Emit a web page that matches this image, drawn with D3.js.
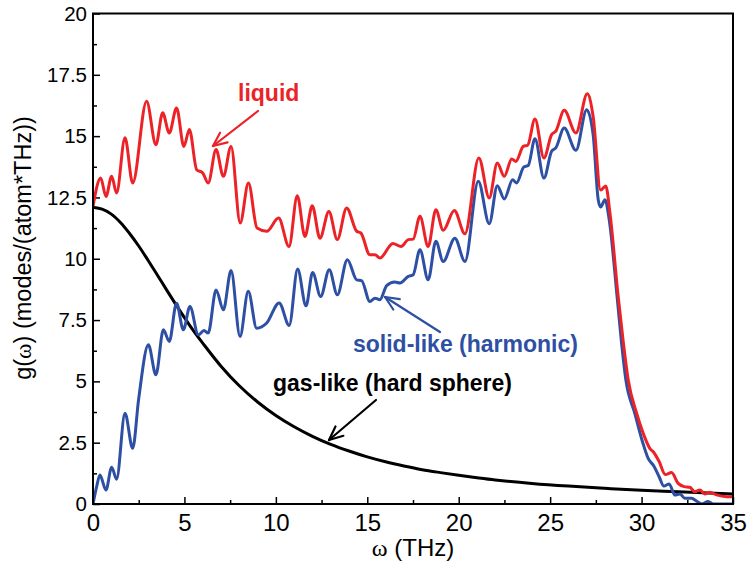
<!DOCTYPE html>
<html>
<head>
<meta charset="utf-8">
<script src="https://cdn.jsdelivr.net/npm/d3@7"></script>
<style>
  html, body { margin: 0; padding: 0; background: #fff; }
  svg { display: block; }
  text { font-family: "Liberation Sans", Arial, Helvetica, sans-serif; }
</style>
</head>
<body>
<svg id="chart" width="749" height="565"></svg>
<script>
// Vibrational density of states g(ω) and its two-phase decomposition
const liquidOmega = [0,0.42,0.71,1.02,1.29,1.75,2.17,2.93,3.44,3.81,4.17,4.57,4.97,5.27,5.67,6.0,6.3,6.73,7.13,7.55,8.05,8.5,8.97,9.5,10.15,10.72,11.17,11.59,11.99,12.41,12.9,13.36,13.87,14.42,14.65,15.14,15.42,15.69,16.4,16.85,17.24,17.51,17.88,18.33,18.75,19.15,19.76,20.34,21.1,21.67,22.11,22.49,22.9,23.13,23.53,23.77,24.17,24.66,25.08,25.31,25.77,26.41,27.03,27.35,27.76,28.04,28.27,28.72,29.0,29.27,29.73,30.09,30.45,30.67,30.96,31.3,31.64,32.0,32.33,32.64,32.91,33.19,33.46,33.74,34.1,34.65,35];
const liquidG = [12.13,13.29,12.54,13.36,12.68,14.93,13.09,16.42,14.65,15.95,15.13,16.15,14.58,15.27,13.63,13.5,13.09,14.45,13.36,14.58,11.46,13.09,11.25,11.12,11.66,10.5,12.57,10.91,12.16,10.84,11.93,10.78,12.07,11.12,11.05,10.16,10.16,10.03,10.62,10.5,10.78,10.8,11.73,10.5,12.0,11.16,11.97,11.02,14.11,12.48,13.9,13.36,14.07,13.97,14.58,14.63,15.7,14.11,15.06,15.2,16.05,15.13,16.73,15.81,12.8,12.97,11.87,8.46,6.6,5.06,3.7,2.88,2.27,2.1,1.73,1.2,1.28,0.84,0.71,0.68,0.5,0.57,0.41,0.48,0.37,0.3,0.3];

const solidOmega = [0,0.2,0.38,0.71,1.02,1.29,1.75,2.17,2.5,3.03,3.44,3.85,4.17,4.57,4.94,5.3,5.76,6.07,6.3,6.73,7.13,7.55,8.04,8.49,8.95,9.5,10.18,10.73,11.19,11.65,12.01,12.45,12.92,13.36,13.91,14.42,14.69,15.14,15.42,15.69,16.06,16.5,16.79,17.24,17.51,17.88,18.33,18.75,19.15,19.79,20.34,21.07,21.67,22.11,22.49,22.95,23.16,23.56,23.8,24.17,24.66,25.08,25.31,25.77,26.41,27.0,27.35,27.63,27.76,28.0,28.23,28.67,28.9,29.14,29.63,30.05,30.36,30.67,30.96,31.22,31.51,31.82,32.1,32.37,32.73,33.04,33.28,33.64,33.92,35];
const solidG = [0,0.71,1.18,0.57,1.5,1.01,3.7,2.27,4.3,6.49,5.27,7.1,6.63,8.19,7.1,8.05,6.9,7.07,6.97,8.73,7.92,9.52,6.83,8.67,7.17,7.38,8.2,7.28,9.58,8.08,9.44,8.46,9.55,8.53,9.96,9.14,9.11,8.26,8.39,8.33,8.9,9.05,9.01,9.28,9.35,10.37,9.14,10.71,9.89,10.84,9.89,13.16,11.43,12.98,12.44,13.22,13.09,13.74,13.8,14.89,13.29,14.38,14.52,15.33,14.42,16.08,15.06,12.41,12.11,12.41,11.59,8.39,6.6,5.06,3.7,2.54,1.86,1.55,1.11,0.73,0.82,0.37,0.41,0.23,0.23,0.1,0,0.1,0,0];

const gasOmega = [0,0.5,1,1.5,2,2.5,3,3.5,4,4.5,5,5.5,6,7,8,9,10,11,12,13,14,15,16,17,18,19,20,21,22,24,26,28,30,32,34,35];
const gasG = [12.1,12.02,11.82,11.48,11.03,10.52,9.95,9.36,8.76,8.17,7.6,7.06,6.56,5.62,4.82,4.16,3.61,3.15,2.76,2.43,2.16,1.92,1.72,1.55,1.4,1.28,1.17,1.07,0.98,0.84,0.73,0.64,0.56,0.5,0.44,0.41];

const xMajorTicks = [0,5,10,15,20,25,30,35];
const xMinorTicks = [2.5,7.5,12.5,17.5,22.5,27.5,32.5];
const yMajorTicks = [0,2.5,5,7.5,10,12.5,15,17.5,20];
const yMinorTicks = [1.25,3.75,6.25,8.75,11.25,13.75,16.25,18.75];
const yTickLabels = ["0","2.5","5","7.5","10","12.5","15","17.5","20"];

const RED = "#ec2227", BLUE = "#2d4fa4", BLACK = "#000";

const svg = d3.select("#chart");
const plotL = 93, plotR = 733, plotT = 13.5, plotB = 504;

const x = d3.scaleLinear().domain([0, 35]).range([plotL, plotR]);
const y = d3.scaleLinear().domain([0, 20]).range([plotB, plotT]);

svg.append("defs").append("clipPath").attr("id", "plotClip")
  .append("rect").attr("x", plotL).attr("y", plotT)
  .attr("width", plotR - plotL).attr("height", plotB - plotT);

// axes with inward ticks
const gx = svg.append("g").attr("transform", `translate(0,${plotB})`)
  .call(d3.axisBottom(x).tickValues(xMajorTicks).tickSize(-7).tickPadding(10).tickFormat(d3.format("d")));
gx.selectAll("text").attr("font-size", 24).attr("fill", "#000");
svg.append("g").attr("transform", `translate(0,${plotB})`)
  .call(d3.axisBottom(x).tickValues(xMinorTicks).tickSize(-4).tickFormat(""));

const gy = svg.append("g").attr("transform", `translate(${plotL},0)`)
  .call(d3.axisLeft(y).tickValues(yMajorTicks).tickSize(-7).tickPadding(6)
    .tickFormat((d, i) => yTickLabels[i]));
gy.selectAll("text").attr("font-size", 20.5).attr("fill", "#000");
svg.append("g").attr("transform", `translate(${plotL},0)`)
  .call(d3.axisLeft(y).tickValues(yMinorTicks).tickSize(-4).tickFormat(""));

svg.selectAll(".domain").remove();
svg.selectAll(".tick line").attr("stroke", "#000").attr("stroke-width", 1.5);

// curves
const line = (xs, ys, curve) => d3.line()
  .x((d, i) => x(xs[i])).y((d, i) => y(ys[i]))
  .curve(curve)(ys);

const curves = svg.append("g").attr("clip-path", "url(#plotClip)");
curves.append("path").attr("d", line(gasOmega, gasG, d3.curveCatmullRom.alpha(0.5)))
  .attr("fill", "none").attr("stroke", BLACK).attr("stroke-width", 3);
curves.append("path").attr("d", line(solidOmega, solidG, d3.curveMonotoneX))
  .attr("fill", "none").attr("stroke", BLUE).attr("stroke-width", 3);
curves.append("path").attr("d", line(liquidOmega, liquidG, d3.curveMonotoneX))
  .attr("fill", "none").attr("stroke", RED).attr("stroke-width", 3);

// frame
svg.append("rect").attr("x", plotL).attr("y", plotT)
  .attr("width", plotR - plotL).attr("height", plotB - plotT)
  .attr("fill", "none").attr("stroke", "#000").attr("stroke-width", 2);

// annotations with open arrowheads
function arrow(x1, y1, x2, y2, color) {
  const g = svg.append("g").attr("stroke", color).attr("stroke-width", 2.2)
    .attr("fill", "none").attr("stroke-linecap", "round");
  g.append("line").attr("x1", x1).attr("y1", y1).attr("x2", x2).attr("y2", y2);
  const ang = Math.atan2(y1 - y2, x1 - x2);
  const len = 15, spread = 0.42;
  [ang - spread, ang + spread].forEach(a => {
    g.append("line").attr("x1", x2).attr("y1", y2)
      .attr("x2", x2 + len * Math.cos(a)).attr("y2", y2 + len * Math.sin(a));
  });
}

function label(txt, xPos, yPos, color) {
  svg.append("text").attr("x", xPos).attr("y", yPos)
    .attr("font-size", 23).attr("font-weight", "bold").attr("fill", color).text(txt);
}

label("liquid", 238, 101, RED);
arrow(258, 111, 213, 146, RED);

label("solid-like (harmonic)", 353, 352, BLUE);
arrow(440, 332, 385, 297, BLUE);

label("gas-like (hard sphere)", 273, 391, BLACK);
arrow(376, 400, 329, 440, BLACK);

// axis titles
const xt = svg.append("text").attr("x", (plotL + plotR) / 2).attr("y", 556)
  .attr("text-anchor", "middle").attr("font-size", 24).attr("fill", "#000");
xt.append("tspan").attr("font-family", "'Liberation Serif', 'Times New Roman', serif").text("ω");
xt.append("tspan").text(" (THz)");

const yt = svg.append("text")
  .attr("transform", `translate(31,248) rotate(-90)`)
  .attr("text-anchor", "middle").attr("font-size", 23.5).attr("fill", "#000");
yt.append("tspan").text("g(");
yt.append("tspan").attr("font-family", "'Liberation Serif', 'Times New Roman', serif").text("ω");
yt.append("tspan").text(")  (modes/(atom*THz))");
</script>
</body>
</html>
